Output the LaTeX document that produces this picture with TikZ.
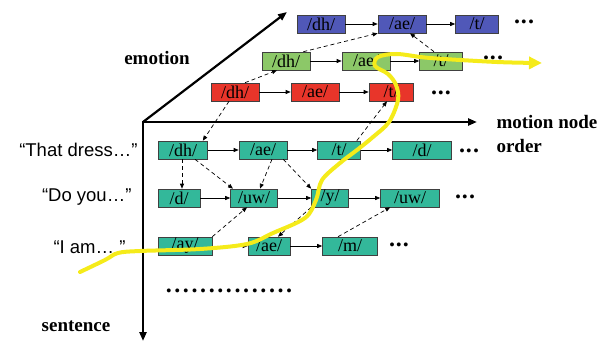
\documentclass[tikz,border=0pt]{standalone}
\usepackage{fontspec}
\setmainfont{Liberation Serif}
\newfontfamily\arialish{Liberation Sans}
\usetikzlibrary{arrows.meta,calc}
\definecolor{cblue}{RGB}{80,88,184}
\definecolor{cgreen}{RGB}{140,200,104}
\definecolor{cred}{RGB}{232,53,42}
\definecolor{cteal}{RGB}{51,184,154}
\definecolor{cyel}{RGB}{245,235,26}
\tikzset{
  ph/.style={draw=black!75,line width=0.6pt,inner sep=0pt,minimum height=18pt,
     font=\fontsize{18}{18}\selectfont},
  bl/.style={ph,fill=cblue},
  gr/.style={ph,fill=cgreen},
  rd/.style={ph,fill=cred},
  tl/.style={ph,fill=cteal},
  seq/.style={-{Triangle[length=5pt,width=4pt]},line width=0.7pt},
  dep/.style={-{Triangle[length=5pt,width=4pt]},line width=0.7pt,dash pattern=on 4pt off 3pt},
  axis/.style={-{Triangle[length=9pt,width=7pt]},line width=2.2pt},
  axlab/.style={font=\fontsize{19}{24}\selectfont\bfseries},
  sidelab/.style={font=\arialish\fontsize{18.5}{18.5}\selectfont,anchor=east},
  dotsl/.style={font=\fontsize{24}{24}\selectfont\bfseries,inner sep=0pt},
}
\newcommand{\threedots}{.\kern1pt.\kern1pt.}
\begin{document}
\begin{tikzpicture}[x=1pt,y=-1pt]
\useasboundingbox (0,0) rectangle (612,342);
% axes
\coordinate (O) at (143,122);
\coordinate (Xend) at (477,122);
\coordinate (Yend) at (143,341);
\coordinate (Zend) at (287,12);
\draw[axis] (O) -- (Xend);
\draw[axis] ([yshift=1pt]O) -- (Yend);
\draw[axis] (O) -- (Zend);
\node[axlab] (lemo) at (157,58) {emotion};
\node[axlab,anchor=west,align=left] (lmot) at (493,134) {motion node\\order};
\node[axlab] (lsen) at (76,326) {sentence};

% blue row
\node[bl,minimum width=48pt] (bdh) at (321,24) {/dh/};
\node[bl,minimum width=48pt] (bae) at (402,24) {/ae/};
\node[bl,minimum width=43pt] (bt) at (477,24) {/t/};
\node[dotsl] (bdots) at (524,22) {\threedots};
% green row
\node[gr,minimum width=48pt] (gdh) at (286,61) {/dh/};
\node[gr,minimum width=48pt] (gae) at (366,61) {/ae/};
\node[gr,minimum width=43pt] (gt) at (441,61) {/t/};
\node[dotsl] (gdots) at (493,58) {\threedots};
% red row
\node[rd,minimum width=48pt] (rdh) at (235,92) {/dh/};
\node[rd,minimum width=48pt] (rae) at (315,92) {/ae/};
\node[rd,minimum width=44pt] (rt) at (391,92) {/t/};
\node[dotsl] (rdots) at (441,93) {\threedots};
% teal rows
\node[tl,minimum width=49pt] (adh) at (183,150) {/dh/};
\node[tl,minimum width=48pt] (aae) at (263,150) {/ae/};
\node[tl,minimum width=43pt] (at) at (339,150) {/t/};
\node[tl,minimum width=59pt] (ad) at (422,150) {/d/};
\node[dotsl] (adots) at (469,151) {\threedots};

\node[tl,minimum width=42pt] (bd) at (179,198) {/d/};
\node[tl,minimum width=47pt] (buw) at (254,198) {/uw/};
\node[tl,minimum width=37pt] (by) at (330,198) {/y/};
\node[tl,minimum width=59pt] (buw2) at (410,198) {/uw/};
\node[dotsl] (bdots2) at (465,197) {\threedots};

\node[tl,minimum width=54pt] (cay) at (185,246) {/ay/};
\node[tl,minimum width=42pt] (cae) at (269,246) {/ae/};
\node[tl,minimum width=55pt] (cm) at (350,246) {/m/};
\node[dotsl] (cdots) at (399,245) {\threedots};

\node[dotsl] (moredots) at (229,291) {.\kern2.6pt.\kern2.6pt.\kern2.6pt.\kern2.6pt.\kern2.6pt.\kern2.6pt.\kern2.6pt.\kern2.6pt.\kern2.6pt.\kern2.6pt.\kern2.6pt.\kern2.6pt.\kern2.6pt.\kern2.6pt.};

% side labels
\node[sidelab] (s1) at (141,150) {“That dress…”};
\node[sidelab] (s2) at (135,197) {“Do you…”};
\node[sidelab] (s3) at (129,247) {“I am… ”};

% sequence arrows
\draw[seq] (bdh) -- (bae); \draw[seq] (bae) -- (bt);
\draw[seq] (gdh) -- (gae); \draw[seq] (gae) -- (gt);
\draw[seq] (rdh) -- (rae); \draw[seq] (rae) -- (rt);
\draw[seq] (adh) -- (aae); \draw[seq] (aae) -- (at); \draw[seq] (at) -- (ad);
\draw[seq] (bd) -- (buw); \draw[seq] (buw) -- (by); \draw[seq] (by) -- (buw2);
\draw[seq] (cay) -- (cae); \draw[seq] (cae) -- (cm);

% dependency arrows
\draw[dep] ([xshift=-6pt]rdh.south) -- ([xshift=-5pt]adh.north east);
\draw[dep] ([xshift=10pt]rdh.north) -- ([xshift=-9pt]gdh.south);
\draw[dep] ([xshift=-7pt]gdh.north east) -- (bae.south west);
\draw[dep] ([xshift=-7pt]gt.north) -- ([xshift=8pt]bae.south);
\draw[dep] ([xshift=-4pt]at.north east) -- ([xshift=-4pt]rt.south);
\draw[dep] ([xshift=-1pt]adh.south) -- ([xshift=-1pt]adh.south |- bd.north);
\draw[dep] ([xshift=12pt]adh.south) -- ([xshift=-21pt]buw.north);
\draw[dep] ([xshift=9pt]aae.south) -- ([xshift=6pt]buw.north);
\draw[dep] ([xshift=-4pt]aae.south east) -- (by.north west);
\draw[dep] (cay.north east) -- ([xshift=-7pt]buw.south);
\draw[dep] (by.south west) -- ([xshift=9pt]cae.north);
\draw[dep] ([xshift=-12pt]cm.north) -- ([xshift=10pt]buw2.south west);

% yellow trajectory
\draw[cyel,line width=4pt,line cap=round,line join=round,-{Triangle[length=13pt,width=12pt]}]
  plot[smooth,tension=0.55] coordinates {(80,272) (105,260) (118,253) (140,251) (200,249) (247,244) (273,233) (305,218) (316,200) (322,180) (340,163) (357,150) (373,137) (389,122) (398,100) (396,85) (388,74) (375,66) (378,57) (397,54) (430,58) (497,62) (542,63)};
\end{tikzpicture}
\end{document}
